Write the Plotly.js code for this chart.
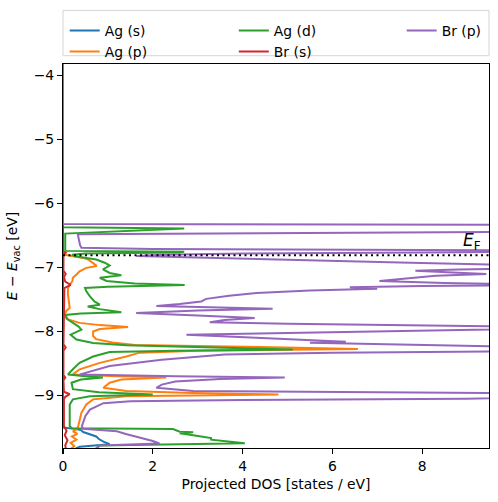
<!DOCTYPE html>
<html><head><meta charset="utf-8">
<script src="https://cdn.plot.ly/plotly-3.0.1.min.js"></script>
<style>html,body{margin:0;padding:0;background:#fff}#chart{width:498px;height:502px}</style>
</head><body><div id="chart"></div>
<script>
// ---- data (energy in eV, projected DOS in states/eV) ----
const seriesNames = ["Ag (s)", "Ag (p)", "Ag (d)", "Br (s)", "Br (p)"];
const seriesColors = ["#1f77b4", "#ff7f0e", "#2ca02c", "#d62728", "#9467bd"];

const agS_E   = [-3.8, -9.50, -9.525, -9.54, -9.57, -9.60, -9.64, -9.68, -9.72, -9.76, -9.78, -9.80, -9.82, -9.85];
const agS_dos = [0.0, 0.0, 0.30, 0.40, 0.45, 0.60, 0.74, 0.80, 0.90, 1.04, 0.60, 0.37, 0.30, 0.25];

const agP_E   = [-3.8, -6.78, -6.80, -6.825, -6.85, -6.875, -6.925, -6.975, -7.005, -7.06, -7.11, -7.16, -7.21, -7.265, -7.32, -7.42, -7.53, -7.63, -7.68, -7.73, -7.81, -7.865, -7.90, -7.93, -7.96, -8.00, -8.07, -8.12, -8.17, -8.21, -8.24, -8.275, -8.30, -8.33, -8.39, -8.49, -8.59, -8.67, -8.70, -8.72, -8.75, -8.80, -8.88, -8.93, -8.96, -8.985, -9.01, -9.06, -9.14, -9.27, -9.48, -9.53, -9.56, -9.60, -9.64, -9.69, -9.74, -9.79, -9.85];
const agP_dos = [0.0, 0.0, 0.04, 0.26, 0.45, 0.56, 0.67, 0.75, 0.52, 0.37, 0.30, 0.22, 0.21, 0.15, 0.11, 0.11, 0.13, 0.15, 0.07, 0.04, 0.11, 0.37, 0.82, 1.45, 0.82, 0.67, 0.67, 0.74, 1.10, 1.60, 4.40, 6.57, 3.00, 1.71, 1.41, 0.82, 0.37, 0.22, 1.20, 2.30, 1.30, 1.04, 0.90, 1.41, 2.90, 4.80, 1.41, 0.67, 0.52, 0.41, 0.34, 0.30, 0.22, 0.32, 0.20, 0.30, 0.17, 0.25, 0.15];

const agD_E   = [-3.8, -6.37, -6.39, -6.47, -6.74, -6.755, -6.765, -6.78, -6.80, -6.825, -6.875, -6.925, -6.97, -7.03, -7.085, -7.12, -7.16, -7.21, -7.25, -7.275, -7.30, -7.32, -7.37, -7.45, -7.53, -7.58, -7.61, -7.65, -7.70, -7.72, -7.74, -7.80, -7.86, -7.92, -7.97, -8.02, -8.05, -8.125, -8.18, -8.215, -8.255, -8.28, -8.30, -8.32, -8.39, -8.49, -8.59, -8.67, -8.70, -8.72, -8.75, -8.80, -8.90, -8.95, -8.985, -9.01, -9.06, -9.14, -9.48, -9.51, -9.525, -9.565, -9.575, -9.59, -9.62, -9.655, -9.665, -9.69, -9.72, -9.745, -9.78, -9.82, -9.85];
const agD_dos = [0.0, 0.0, 2.70, 0.05, 0.05, 2.70, 2.60, 0.50, 0.20, 0.27, 0.74, 0.93, 1.04, 0.89, 1.04, 1.30, 0.82, 0.97, 1.60, 2.71, 1.00, 0.49, 0.52, 0.60, 0.70, 0.82, 0.55, 0.82, 1.30, 0.40, 0.05, 0.08, 0.20, 0.34, 0.41, 0.25, 0.17, 0.30, 0.67, 1.41, 3.64, 5.12, 2.50, 1.04, 0.67, 0.37, 0.22, 0.11, 0.50, 0.89, 0.40, 0.19, 0.22, 0.80, 2.00, 0.60, 0.22, 0.15, 0.15, 0.20, 2.45, 2.60, 2.90, 2.60, 2.90, 3.20, 3.30, 3.30, 3.80, 4.05, 0.82, 0.75, 0.70];

const brS_E   = [-3.8, -6.75, -6.77, -6.80, -7.05, -7.10, -7.15, -7.22, -7.27, -7.32, -8.20, -8.25, -8.30, -8.68, -8.72, -8.76, -8.94, -8.98, -9.02, -9.06, -9.48, -9.55, -9.62, -9.70, -9.78, -9.85];
const brS_dos = [0.0, 0.0, 0.06, 0.01, 0.01, 0.06, 0.02, 0.05, 0.17, 0.03, 0.01, 0.06, 0.01, 0.01, 0.05, 0.01, 0.02, 0.15, 0.05, 0.02, 0.02, 0.08, 0.04, 0.10, 0.05, 0.07];

const brP_E   = [-3.8, -6.32, -6.335, -6.40, -6.445, -6.465, -6.48, -6.55, -6.65, -6.69, -6.71, -6.735, -6.76, -6.78, -6.80, -6.82, -6.84, -6.88, -6.92, -6.95, -6.99, -7.03, -7.05, -7.08, -7.10, -7.13, -7.17, -7.21, -7.24, -7.27, -7.29, -7.31, -7.33, -7.36, -7.40, -7.41, -7.44, -7.49, -7.53, -7.57, -7.60, -7.625, -7.645, -7.67, -7.71, -7.75, -7.79, -7.82, -7.855, -7.88, -7.91, -7.94, -7.97, -8.03, -8.05, -8.08, -8.10, -8.13, -8.16, -8.175, -8.20, -8.23, -8.255, -8.28, -8.31, -8.33, -8.36, -8.44, -8.54, -8.62, -8.67, -8.70, -8.72, -8.74, -8.78, -8.83, -8.88, -8.93, -8.96, -9.00, -9.05, -9.07, -9.09, -9.12, -9.22, -9.32, -9.48, -9.52, -9.535, -9.56, -9.60, -9.64, -9.68, -9.71, -9.75, -9.78, -9.85];
const brP_dos = [0.0, 0.0, 12.0, 14.0, 10.0, 2.0, 0.33, 0.35, 0.38, 0.41, 2.0, 12.0, 9.0, 4.0, 2.2, 1.63, 3.0, 5.0, 7.5, 9.6, 12.0, 8.8, 7.85, 8.8, 9.43, 8.3, 7.6, 7.05, 8.5, 11.0, 8.0, 6.39, 7.0, 5.5, 4.31, 4.1, 3.7, 3.19, 3.08, 2.6, 2.08, 3.5, 4.67, 3.0, 1.63, 3.0, 4.27, 3.6, 3.27, 5.0, 8.0, 12.0, 9.5, 3.9, 2.75, 3.8, 4.5, 5.3, 6.3, 5.5, 7.0, 8.5, 9.6, 13.0, 10.0, 6.0, 3.6, 2.2, 1.04, 0.6, 0.38, 2.5, 4.94, 3.5, 2.5, 2.2, 2.08, 2.9, 9.6, 13.0, 9.0, 4.0, 1.5, 0.9, 0.6, 0.5, 0.42, 0.45, 0.82, 1.2, 1.4, 1.63, 1.85, 2.0, 2.15, 0.82, 0.7];

const fermiLevel = -6.81;
const xTicks = [0, 2, 4, 6, 8];
const yTicks = [-9, -8, -7, -6, -5, -4];
const xRange = [0, 9.49];
const yRange = [-9.82, -3.82];

const energies = [agS_E, agP_E, agD_E, brS_E, brP_E];
const dosValues = [agS_dos, agP_dos, agD_dos, brS_dos, brP_dos];
// legend columns (matplotlib ncol=3, column-major filling)
const legendColumn = ["legend", "legend", "legend2", "legend2", "legend3"];

const traces = seriesNames.map((name, i) => ({
  type: "scatter", mode: "lines", name: name,
  x: dosValues[i], y: energies[i],
  line: {color: seriesColors[i], width: 2},
  legend: legendColumn[i],
  hoverinfo: "skip"
}));
traces.push({
  type: "scatter", mode: "lines", showlegend: false,
  x: xRange, y: [fermiLevel, fermiLevel],
  line: {color: "#000", width: 2, dash: "2px,3.5px"},
  hoverinfo: "skip"
});

const font = {family: "DejaVu Sans", size: 13.9, color: "#000"};
function legendAt(xp) {
  return {
    orientation: "v", x: xp, xanchor: "left", y: 1.128, yanchor: "top",
    bgcolor: "rgba(0,0,0,0)", borderwidth: 0, font: font, traceorder: "normal"
  };
}
const layout = {
  width: 498, height: 502,
  margin: {l: 63, r: 9, t: 64, b: 54},
  paper_bgcolor: "#fff", plot_bgcolor: "#fff",
  font: font,
  showlegend: true,
  legend: legendAt(0.004),
  legend2: legendAt(0.401),
  legend3: legendAt(0.795),
  shapes: [{
    type: "rect", xref: "paper", yref: "paper",
    x0: 0, x1: 1, y0: 1.0216, y1: 1.1395,
    line: {color: "#d5d5d5", width: 1}, fillcolor: "rgba(255,255,255,0.8)", layer: "below"
  }],
  xaxis: {
    range: xRange, tickvals: xTicks, ticktext: xTicks.map(String),
    ticks: "outside", ticklen: 5, tickwidth: 1.1, tickcolor: "#000",
    showline: true, linecolor: "#000", linewidth: 1.1, mirror: true,
    showgrid: false, zeroline: false,
    title: {text: "Projected DOS [states / eV]", font: font, standoff: 6}
  },
  yaxis: {
    range: yRange, tickvals: yTicks,
    ticks: "outside", ticklen: 5, tickwidth: 1.1, tickcolor: "#000",
    showline: true, linecolor: "#000", linewidth: 1.1, mirror: true,
    showgrid: false, zeroline: false,
    title: {text: "<i>E</i> − <i>E</i><sub>vac</sub> [eV]", font: font, standoff: 12}
  },
  annotations: [{
    x: 9.36, y: fermiLevel, xref: "x", yref: "y",
    xanchor: "right", yanchor: "bottom", showarrow: false,
    text: "<i>E</i><sub>F</sub>",
    font: {family: "DejaVu Sans", size: 17, color: "#000"}
  }]
};
Plotly.newPlot("chart", traces, layout, {displayModeBar: false, staticPlot: true});
</script></body></html>
